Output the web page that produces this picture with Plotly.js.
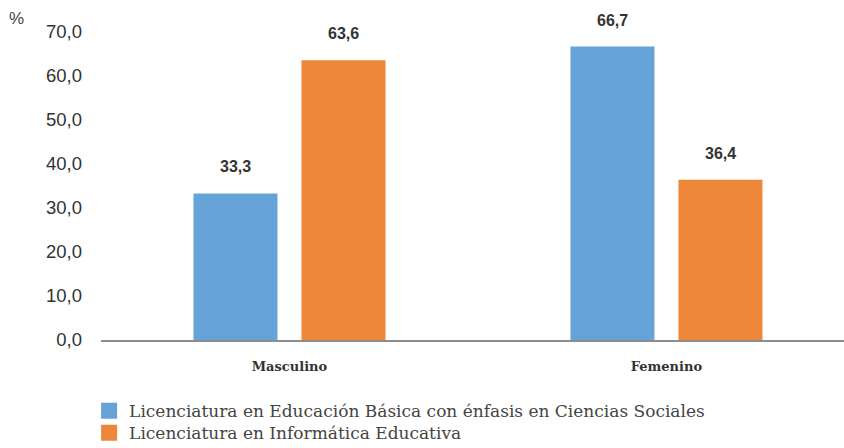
<!DOCTYPE html>
<html>
<head>
<meta charset="utf-8">
<script src="https://cdn.plot.ly/plotly-3.0.1.min.js"></script>
<style>
  html, body { margin: 0; padding: 0; background: #fff; overflow: hidden; }
  #chart { width: 844px; height: 448px; }
</style>
</head>
<body>
<div id="chart"></div>
<script>
var categories = ['Masculino', 'Femenino'];
var seriesNames = [
  'Licenciatura en Educación Básica con énfasis en Ciencias Sociales',
  'Licenciatura en Informática Educativa'
];
var basicaValues = [33.3, 66.7];
var informaticaValues = [63.6, 36.4];
var yTickValues = [0, 10, 20, 30, 40, 50, 60, 70];

var colors = ['#65a3d9', '#ef873b'];

function fmt(v) {
  return v.toFixed(1).replace('.', ',');
}

var series = [basicaValues, informaticaValues];
var data = [];

// bars (no legend entry, the legend uses bigger square markers below)
for (var s = 0; s < series.length; s++) {
  data.push({
    type: 'bar',
    name: seriesNames[s],
    x: categories,
    y: series[s],
    marker: { color: colors[s] },
    showlegend: false,
    hoverinfo: 'none'
  });
}

// legend-only entries, one legend per row to control the spacing
var legendIds = ['legend', 'legend2'];
for (var s = 0; s < series.length; s++) {
  data.push({
    type: 'scatter',
    mode: 'markers',
    name: seriesNames[s],
    legend: legendIds[s],
    x: [categories[0]],
    y: [null],
    marker: { color: colors[s], symbol: 'square', size: 16 },
    hoverinfo: 'none'
  });
}

// value labels above bars, shifted to each bar of the group
var annotations = [];
var shifts = [-54, 54];
for (var s = 0; s < series.length; s++) {
  for (var i = 0; i < categories.length; i++) {
    annotations.push({
      x: categories[i],
      y: series[s][i],
      xref: 'x', yref: 'y',
      text: '<b>' + fmt(series[s][i]) + '</b>',
      showarrow: false,
      xshift: shifts[s],
      yshift: 16,
      yanchor: 'bottom',
      font: { family: 'Liberation Sans, Arial, sans-serif', size: 16, color: '#333' }
    });
  }
}

annotations.push({
  xref: 'paper', yref: 'paper',
  x: -0.114, y: 1.045,
  text: '%',
  showarrow: false,
  xanchor: 'center', yanchor: 'middle',
  font: { family: 'Liberation Sans, Arial, sans-serif', size: 17, color: '#444' }
});

var legendFont = { family: 'DejaVu Serif, serif', size: 17, color: '#444' };

var layout = {
  width: 844,
  height: 448,
  margin: { l: 101, r: 0, t: 32, b: 108, autoexpand: false },
  paper_bgcolor: '#fff',
  plot_bgcolor: '#fff',
  barmode: 'group',
  bargap: 0.427,
  bargroupgap: 0.222,
  showlegend: true,
  legend: {
    x: -0.016, y: -0.173,
    xanchor: 'left', yanchor: 'top',
    bgcolor: 'rgba(0,0,0,0)',
    font: legendFont
  },
  legend2: {
    x: -0.016, y: -0.2444,
    xanchor: 'left', yanchor: 'top',
    bgcolor: 'rgba(0,0,0,0)',
    font: legendFont
  },
  xaxis: {
    type: 'category',
    range: [-0.5, 1.471],
    automargin: false,
    showgrid: false,
    showline: true,
    linecolor: '#8c8c8c',
    linewidth: 2,
    zeroline: false,
    ticks: '',
    ticklabelstandoff: 13,
    tickfont: { family: 'DejaVu Serif, serif', size: 13, color: '#333', weight: 'bold' }
  },
  yaxis: {
    range: [0, 70],
    automargin: false,
    tickvals: yTickValues,
    ticktext: yTickValues.map(fmt),
    showgrid: false,
    showline: false,
    zeroline: false,
    ticks: '',
    ticklabelstandoff: 18,
    tickfont: { family: 'Liberation Sans, Arial, sans-serif', size: 18.5, color: '#333' }
  },
  annotations: annotations
};

Plotly.newPlot('chart', data, layout, { displayModeBar: false, staticPlot: true });
</script>
</body>
</html>
